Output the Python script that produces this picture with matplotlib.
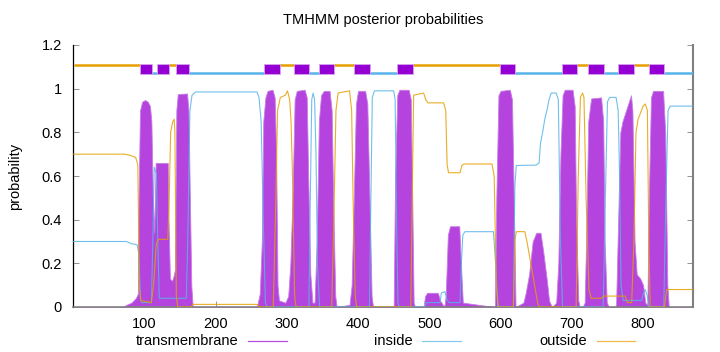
"""TMHMM posterior probabilities plot (transmembrane / inside / outside)."""

import matplotlib
matplotlib.use("Agg")
import matplotlib.pyplot as plt
from matplotlib.lines import Line2D
from matplotlib.patches import Rectangle

SEQ_LEN = 870

# posterior probability: (residue, probability)
tm_pos = [1, 70, 75, 82, 88, 91, 92, 94, 97, 101, 105, 108, 110, 112, 114, 115, 116, 133, 134, 136,
          139, 141, 143, 145, 147, 160, 162, 164, 166, 168, 258, 262, 265, 267, 270, 273, 280, 283,
          285, 287, 289, 298, 302, 305, 308, 311, 314, 325, 328, 330, 333, 336, 339, 342, 345, 348,
          352, 360, 363, 365, 368, 370, 388, 391, 394, 397, 400, 410, 413, 416, 419, 421, 450, 452,
          455, 458, 471, 474, 476, 478, 480, 492, 494, 497, 512, 515, 521, 523, 526, 529, 542, 545,
          547, 592, 594, 597, 600, 613, 616, 619, 621, 632, 635, 640, 645, 650, 656, 660, 665, 668,
          672, 678, 681, 684, 687, 690, 701, 704, 706, 709, 711, 715, 718, 720, 723, 727, 741, 744,
          746, 749, 752, 762, 765, 768, 771, 775, 779, 782, 783, 785, 788, 791, 796, 800, 803, 806,
          808, 811, 814, 828, 831, 834, 836, 870]
tm_val = [0.0, 0.0, 0.01, 0.02, 0.04, 0.06, 0.5, 0.90, 0.94, 0.948, 0.94, 0.92, 0.85, 0.50, 0.34,
          0.5, 0.66, 0.66, 0.40, 0.13, 0.12, 0.14, 0.17, 0.9, 0.975, 0.978, 0.9, 0.5, 0.1, 0.0, 0.0,
          0.06, 0.3, 0.85, 0.96, 0.99, 0.995, 0.96, 0.7, 0.1, 0.03, 0.02, 0.05, 0.2, 0.5, 0.95, 0.99,
          0.995, 0.96, 0.6, 0.15, 0.02, 0.02, 0.3, 0.85, 0.97, 0.99, 0.99, 0.9, 0.5, 0.05, 0.0, 0.01,
          0.1, 0.5, 0.93, 0.99, 0.99, 0.93, 0.5, 0.05, 0.0, 0.0, 0.6, 0.97, 0.995, 0.995, 0.95, 0.5,
          0.02, 0.0, 0.0, 0.05, 0.065, 0.065, 0.03, 0.0, 0.05, 0.33, 0.37, 0.37, 0.15, 0.02, 0.0, 0.5,
          0.97, 0.99, 0.995, 0.95, 0.4, 0.0, 0.02, 0.06, 0.15, 0.30, 0.34, 0.34, 0.25, 0.12, 0.03,
          0.0, 0.02, 0.2, 0.7, 0.97, 0.995, 0.995, 0.92, 0.40, 0.03, 0.0, 0.0, 0.02, 0.3, 0.85, 0.955,
          0.96, 0.85, 0.3, 0.02, 0.0, 0.0, 0.4, 0.80, 0.85, 0.89, 0.93, 0.96, 0.97, 0.90, 0.3, 0.15,
          0.13, 0.10, 0.02, 0.01, 0.5, 0.96, 0.99, 0.99, 0.8, 0.1, 0.0, 0.0]

in_pos = [1, 75, 82, 90, 92, 95, 97, 110, 112, 114, 116, 117, 119, 121, 159, 161, 164, 167, 172, 258,
          261, 264, 267, 270, 272, 331, 333, 335, 337, 339, 341, 343, 346, 416, 418, 420, 423, 450,
          452, 454, 456, 458, 493, 496, 515, 517, 522, 525, 528, 543, 545, 547, 550, 590, 593, 596,
          618, 620, 622, 650, 654, 656, 659, 662, 665, 668, 671, 678, 681, 684, 687, 744, 747, 750,
          753, 762, 765, 767, 769, 772, 798, 800, 803, 806, 808, 829, 832, 835, 838, 870]
in_val = [0.30, 0.30, 0.29, 0.285, 0.25, 0.03, 0.02, 0.02, 0.30, 0.64, 0.62, 0.61, 0.30, 0.04, 0.04,
          0.3, 0.90, 0.97, 0.985, 0.985, 0.96, 0.85, 0.40, 0.02, 0.0, 0.0, 0.5, 0.95, 0.98, 0.95,
          0.70, 0.20, 0.0, 0.0, 0.5, 0.96, 0.99, 0.99, 0.95, 0.40, 0.02, 0.0, 0.0, 0.02, 0.02, 0.065,
          0.07, 0.03, 0.02, 0.02, 0.20, 0.33, 0.345, 0.345, 0.20, 0.0, 0.0, 0.55, 0.648, 0.65, 0.66,
          0.75, 0.80, 0.86, 0.90, 0.95, 0.98, 0.98, 0.95, 0.30, 0.0, 0.0, 0.5, 0.94, 0.96, 0.96, 0.90,
          0.60, 0.10, 0.03, 0.03, 0.06, 0.08, 0.05, 0.0, 0.0, 0.5, 0.90, 0.92, 0.92]

out_pos = [1, 72, 80, 88, 91, 93, 95, 110, 113, 117, 120, 133, 135, 137, 140, 142, 143, 145, 147, 166,
           168, 258, 262, 281, 284, 287, 291, 298, 301, 304, 306, 308, 311, 313, 363, 366, 369, 372,
           388, 391, 393, 396, 398, 474, 476, 478, 492, 495, 498, 520, 523, 525, 527, 543, 546, 549,
           588, 591, 594, 597, 618, 620, 622, 634, 637, 645, 652, 654, 706, 709, 712, 715, 717, 720,
           724, 727, 742, 744, 775, 778, 784, 787, 790, 793, 800, 803, 806, 808, 810, 830, 833, 870]
out_val = [0.70, 0.70, 0.695, 0.685, 0.65, 0.10, 0.03, 0.02, 0.10, 0.29, 0.31, 0.31, 0.50, 0.80, 0.85,
           0.86, 0.80, 0.05, 0.0, 0.0, 0.012, 0.012, 0.0, 0.0, 0.4, 0.90, 0.96, 0.97, 0.99, 0.95, 0.85,
           0.60, 0.05, 0.0, 0.0, 0.4, 0.90, 0.98, 0.99, 0.90, 0.50, 0.05, 0.0, 0.0, 0.5, 0.97, 0.98,
           0.95, 0.935, 0.935, 0.90, 0.65, 0.615, 0.615, 0.65, 0.655, 0.655, 0.60, 0.10, 0.0, 0.0,
           0.30, 0.345, 0.345, 0.30, 0.15, 0.02, 0.0, 0.0, 0.6, 0.96, 0.98, 0.96, 0.5, 0.08, 0.04,
           0.04, 0.05, 0.05, 0.02, 0.02, 0.3, 0.80, 0.86, 0.92, 0.93, 0.90, 0.3, 0.0, 0.0, 0.08, 0.08]

# predicted topology (first loop is outside, then alternating)
tm_start = [94, 118, 145, 268, 310, 345, 394, 455, 599, 686, 723, 765, 808]
tm_end = [111, 135, 163, 290, 331, 366, 417, 477, 620, 707, 745, 787, 830]

y_ticks = [0, 0.2, 0.4, 0.6, 0.8, 1.0, 1.2]
y_ticklabels = ["0", "0.2", "0.4", "0.6", "0.8", "1", "1.2"]
x_ticks = [100, 200, 300, 400, 500, 600, 700, 800]

C_TM = "#9400d3"
C_TM_FILL = "#b444dd"
C_IN = "#56b4e9"
C_OUT = "#e69f00"


def main():
    plt.rcParams["font.family"] = ["Liberation Sans", "DejaVu Sans"]
    plt.rcParams["font.size"] = 10.5

    fig = plt.figure(figsize=(7.2, 3.52), dpi=100)
    ax = fig.add_axes([73 / 720, 1 - 307 / 352, 620 / 720, 262 / 352])

    # transmembrane posterior (impulses in the original -> filled area)
    ax.fill_between(tm_pos, 0, tm_val, color=C_TM_FILL, linewidth=0.6,
                    edgecolor="#c77ee6", zorder=2)
    ax.plot(in_pos, in_val, color=C_IN, linewidth=0.8, alpha=0.85, zorder=3)
    ax.plot(out_pos, out_val, color=C_OUT, linewidth=0.8, alpha=0.85, zorder=3)

    # topology bar on top
    loops_start = [1] + tm_end
    loops_end = tm_start + [SEQ_LEN]
    for i, (a, b) in enumerate(zip(loops_start, loops_end)):
        if i % 2 == 0:
            ax.plot([a, b], [1.11, 1.11], color=C_OUT, linewidth=1.8,
                    solid_capstyle="butt", zorder=4)
        else:
            ax.plot([a, b], [1.072, 1.072], color=C_IN, linewidth=1.8,
                    solid_capstyle="butt", zorder=4)
    for a, b in zip(tm_start, tm_end):
        ax.add_patch(Rectangle((a, 1.067), b - a, 0.048, facecolor=C_TM,
                               edgecolor="#d9a3f0", linewidth=0.6, zorder=5))

    ax.set_xlim(0, SEQ_LEN)
    ax.set_ylim(0, 1.2)
    ax.set_xticks(x_ticks)
    ax.set_yticks(y_ticks)
    ax.set_yticklabels(y_ticklabels)
    ax.tick_params(axis="both", direction="in", length=4, width=0.6,
                   color="#808080", labelcolor="black")
    ax.tick_params(axis="y", right=True, pad=8)
    ax.tick_params(axis="x", pad=7)
    ax.spines["top"].set_visible(False)
    ax.spines["left"].set_color("black")
    ax.spines["bottom"].set_color("#808080")
    ax.spines["right"].set_color("#808080")
    ax.spines["right"].set_linewidth(1.5)
    ax.spines["bottom"].set_linewidth(1.2)
    ax.spines["left"].set_linewidth(0.9)

    fig.text(383 / 720, 1 - 20 / 352, "TMHMM posterior probabilities",
             ha="center", va="center")
    fig.text(15 / 720, 1 - 176 / 352, "probability", rotation=90,
             ha="center", va="center")

    # legend row below the plot (text, then line sample)
    legend_items = [("transmembrane", C_TM, 238, 248, 287),
                    ("inside", C_IN, 413, 422, 461),
                    ("outside", C_OUT, 587, 597, 635)]
    ly = 1 - 341 / 352
    for label, col, tx, x1, x2 in legend_items:
        fig.text(tx / 720, ly, label, ha="right", va="center")
        fig.add_artist(Line2D([x1 / 720, x2 / 720], [ly, ly], color=col,
                              linewidth=0.9, alpha=0.7,
                              transform=fig.transFigure))

    fig.savefig("out.png", dpi=100)


if __name__ == "__main__":
    main()
